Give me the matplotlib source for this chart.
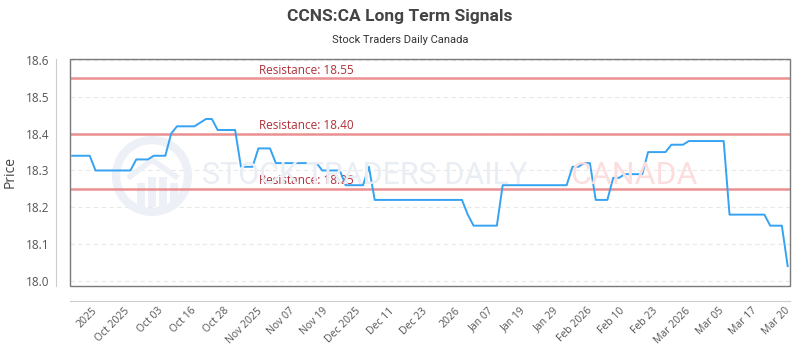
import matplotlib
matplotlib.use("Agg")
import matplotlib.pyplot as plt
import matplotlib.transforms as mtransforms
from matplotlib.patches import Rectangle, Circle, Polygon
import numpy as np

# ---- data ----
title = "CCNS:CA Long Term Signals"
subtitle = "Stock Traders Daily Canada"
prices = [
    18.34, 18.34, 18.34, 18.34,
    18.30, 18.30, 18.30, 18.30, 18.30, 18.30, 18.30,
    18.33, 18.33, 18.33,
    18.34, 18.34, 18.34,
    18.40,
    18.42, 18.42, 18.42, 18.42,
    18.43,
    18.44, 18.44,
    18.41, 18.41, 18.41, 18.41,
    18.31, 18.31, 18.31,
    18.36, 18.36, 18.36,
    18.32, 18.32, 18.32, 18.32, 18.32, 18.32, 18.32, 18.32,
    18.30, 18.30, 18.30, 18.30,
    18.26, 18.26, 18.26, 18.26,
    18.31,
    18.22, 18.22, 18.22, 18.22, 18.22, 18.22, 18.22, 18.22,
    18.22, 18.22, 18.22, 18.22, 18.22, 18.22, 18.22, 18.22,
    18.18,
    18.15, 18.15, 18.15, 18.15, 18.15,
    18.26, 18.26, 18.26, 18.26, 18.26, 18.26,
    18.26, 18.26, 18.26, 18.26, 18.26, 18.26,
    18.31, 18.31,
    18.32, 18.32,
    18.22, 18.22, 18.22,
    18.28, 18.28,
    18.29, 18.29, 18.29, 18.29,
    18.35, 18.35, 18.35, 18.35,
    18.37, 18.37, 18.37,
    18.38, 18.38, 18.38, 18.38, 18.38, 18.38, 18.38,
    18.18, 18.18, 18.18, 18.18, 18.18, 18.18, 18.18,
    18.15, 18.15, 18.15,
    18.04,
]
tick_labels = ["2025", "Oct 2025", "Oct 03", "Oct 16", "Oct 28", "Nov 2025",
               "Nov 07", "Nov 19", "Dec 2025", "Dec 11", "Dec 23", "2026",
               "Jan 07", "Jan 19", "Jan 29", "Feb 2026", "Feb 10", "Feb 23",
               "Mar 2026", "Mar 05", "Mar 17", "Mar 20"]
resistance_levels = [18.55, 18.40, 18.25]
y_ticks = [18.0, 18.1, 18.2, 18.3, 18.4, 18.5, 18.6]

# ---- figure ----
W, H = 800, 350
fig = plt.figure(figsize=(8, 3.5), dpi=100)
fig.patch.set_facecolor("white")
ax_l, ax_r, ax_t, ax_b = 70, 790, 59, 286
ax = fig.add_axes([ax_l / W, 1 - ax_b / H, (ax_r - ax_l) / W, (ax_b - ax_t) / H])

x = np.arange(len(prices))
n = len(prices)
ax.set_xlim(-0.39, n - 1 + 0.4)
ax.set_ylim(17.986, 18.603)

# grid
for yv in y_ticks:
    ax.axhline(yv, color="#e8e8e8", lw=0.8, ls=(0, (4, 3)), zorder=0)

# watermark (logo + text), in pixel coordinates of the figure
def px(xp, yp):
    return (xp, H - yp)

wm_color = "#edf1f7"
ax.add_patch(Circle(px(152, 176), 36, transform=None, fill=False,
                    edgecolor=wm_color, lw=6, zorder=0.5))
for bx, bh in [(137, 24), (148, 30), (159, 30), (170, 24)]:
    ax.add_patch(Rectangle(px(bx, 207), 8, bh, transform=None,
                           facecolor=wm_color, edgecolor="none", zorder=0.5))
ax.add_patch(Polygon([px(128, 178), px(152, 160), px(178, 178)], closed=False,
                     transform=None, fill=False, edgecolor=wm_color, lw=4,
                     zorder=0.5))
fig.text(527 / W, 1 - 176 / H, "STOCK TRADERS DAILY", fontsize=22,
         family="Roboto", color="#e9edf4", va="center", ha="right",
         zorder=0.5)
fig.text(697 / W, 1 - 176 / H, "CANADA", fontsize=23, family="Roboto",
         color="#fcdede", va="center", ha="right", zorder=0.5)

# resistance lines
lbl_tr = mtransforms.blended_transform_factory(ax.transAxes, ax.transData)
for lvl in resistance_levels:
    ax.axhline(lvl, color="#e98585", lw=1.8, alpha=0.9, zorder=2)
    ax.text((259 - ax_l) / (ax_r - ax_l), lvl + 0.004, f"Resistance: {lvl:.2f}",
            transform=lbl_tr, color="#b0303a", fontsize=8.5, family="Open Sans",
            va="bottom", ha="left", zorder=3)

# price line
ax.plot(x, prices, color="#35a2f2", lw=1.4, zorder=4)

# frame
ax.add_patch(Rectangle((0, 0), 1, 1, transform=ax.transAxes, fill=False,
                       edgecolor="#7a7a7a", lw=1.0, zorder=5, clip_on=False))
for s in ["top", "right"]:
    ax.spines[s].set_visible(False)
ax.spines["left"].set_position(("outward", 10))
ax.spines["bottom"].set_position(("outward", 11))
ax.spines["left"].set_color("#cccccc")
ax.spines["bottom"].set_color("#cccccc")

# ticks
ax.set_yticks(y_ticks)
ax.set_yticklabels([f"{v:.1f}" for v in y_ticks], family="Open Sans",
                   fontsize=8.5, color="#555555")
ax.tick_params(axis="y", length=0, pad=5)
tick_pos = np.linspace(3.3, 122.4, len(tick_labels))
ax.set_xticks(tick_pos)
ax.set_xticklabels(tick_labels, rotation=45, ha="right", rotation_mode="anchor",
                   family="Open Sans", fontsize=7.5, color="#555555")
ax.tick_params(axis="x", length=0, pad=3)

ax.set_ylabel("Price", family="Open Sans", fontsize=10, color="#444444",
              labelpad=6)

fig.text(0.5, 1 - 16 / H, title, ha="center", va="center", fontsize=12.5,
         fontweight="bold", family="Roboto", color="#444444")
fig.text(0.5, 1 - 40 / H, subtitle, ha="center", va="center", fontsize=8,
         family="Roboto", color="#333333")

fig.savefig("out.png", dpi=100)
